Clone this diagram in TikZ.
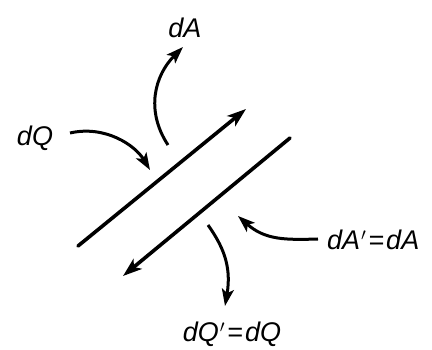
\documentclass[tikz,border=0pt]{standalone}
\usepackage{fontspec}
\setmainfont{Liberation Sans}
\usetikzlibrary{arrows.meta}
\begin{document}
\begin{tikzpicture}[x=1pt,y=-1pt,
  wall/.style={line width=3.6pt,line cap=round},
  flow/.style={line width=3pt,-{Stealth[length=17pt,width=12pt,inset=4pt]}},
  lbl/.style={inner sep=1pt,font=\fontsize{27}{30}\selectfont\itshape}]
\useasboundingbox (0,0) rectangle (432,350);
\coordinate (w1a) at (78,246);
\coordinate (w1b) at (246,109);
\coordinate (w2a) at (290,138);
\coordinate (w2b) at (123,276);
\draw[wall,-{Stealth[length=19pt,width=13pt,inset=5pt]}] (w1a) -- (w1b);
\draw[wall,-{Stealth[length=19pt,width=13pt,inset=5pt]}] (w2a) -- (w2b);
\node[lbl] (dQ) at (35,138) {dQ};
\node[lbl] (dA) at (185,28) {dA};
\node[lbl,anchor=west] (dAp) at (326,240) {dA\kern1pt$'$\kern2pt=\kern2pt dA};
\node[lbl] (dQp) at (232,334) {dQ\kern1pt$'$\kern2pt=\kern2pt dQ};
\coordinate (q1) at (150,170);
\coordinate (a1) at (168,145);
\coordinate (a2) at (238,216);
\coordinate (q2) at (208,225);
\draw[flow] (70,133) .. controls (105,125) and (135,145) .. (q1);
\draw[flow] (a1) .. controls (145,110) and (155,75) .. (183,47);
\draw[flow] (318,239) .. controls (285,240) and (265,240) .. (a2);
\draw[flow] (q2) .. controls (222,245) and (232,265) .. (225,306);
\end{tikzpicture}
\end{document}
